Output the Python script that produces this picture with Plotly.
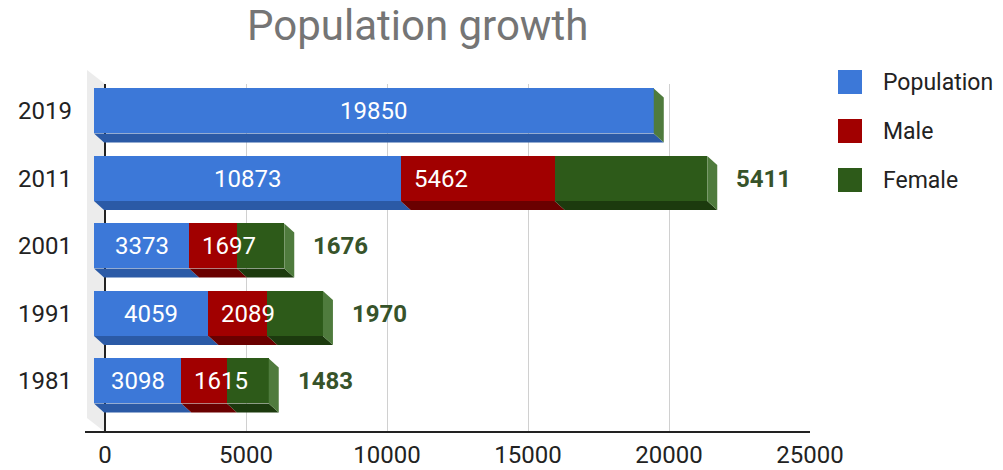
import plotly.graph_objects as go

# ---- data -------------------------------------------------------------
years = ["1981", "1991", "2001", "2011", "2019"]
population = [3098, 4059, 3373, 10873, 19850]
male = [1615, 2089, 1697, 5462, 0]
female = [1483, 1970, 1676, 5411, 0]
series_names = ["Population", "Male", "Female"]
x_ticks = [0, 5000, 10000, 15000, 20000, 25000]

# ---- style ------------------------------------------------------------
W, H = 1003, 470
front_colors = ["#3c78d8", "#a10000", "#2d5a19"]
bottom_colors = ["#2b5aa6", "#6a0000", "#1c3a0e"]
side_color = "#4f7b3d"
female_label_color = "#37532a"
FONT = "Roboto"
BAR_W = 0.667
DX = 355      # depth of the 3D boxes along x (axis units)
DY = 0.133    # depth of the 3D boxes along y (axis units)


def px_x(p):
    return p / W


def px_y(p):
    return 1 - p / H


series = [population, male, female]
rows = list(range(len(years)))

fig = go.Figure()

# back plane (gridlines and value axis) lives on x / y so it is drawn first
fig.add_trace(go.Scatter(
    x=[0], y=[0], xaxis="x", yaxis="y", mode="markers",
    marker=dict(opacity=0), showlegend=False, hoverinfo="skip",
))

# front faces of the stacked bars on x2 / y2
for name, vals, col in zip(series_names, series, front_colors):
    fig.add_trace(go.Bar(
        name=name, y=rows, x=vals, orientation="h", width=BAR_W,
        marker=dict(color=col, line=dict(width=0)),
        xaxis="x2", yaxis="y2", showlegend=False, hoverinfo="x+name",
    ))

shapes = []
annotations = []

# light side wall of the 3D plot box
shapes.append(dict(
    type="path", xref="paper", yref="paper", layer="below",
    path=(f"M {px_x(87)},{px_y(70)} L {px_x(105)},{px_y(84)} "
          f"L {px_x(105)},{px_y(432)} L {px_x(87)},{px_y(418)} Z"),
    fillcolor="#ececec", line=dict(width=0),
))

# bottom and right faces of the boxes
for i in rows:
    y_top = i + BAR_W / 2
    y_bot = i - BAR_W / 2
    start = 0
    for vals, col in zip(series, bottom_colors):
        v = vals[i]
        if v > 0:
            end = start + v
            shapes.append(dict(
                type="path", xref="x2", yref="y2", layer="above",
                path=(f"M {start},{y_bot} L {end},{y_bot} "
                      f"L {end + DX},{y_bot - DY} L {start + DX},{y_bot - DY} Z"),
                fillcolor=col, line=dict(width=0),
            ))
            start = end
    total = start
    shapes.append(dict(
        type="path", xref="x2", yref="y2", layer="above",
        path=(f"M {total},{y_top} L {total + DX},{y_top - DY} "
              f"L {total + DX},{y_bot - DY} L {total},{y_bot} Z"),
        fillcolor=side_color, line=dict(width=0),
    ))

    # value labels
    annotations.append(dict(
        x=population[i] / 2, y=i, xref="x2", yref="y2", text=str(population[i]),
        showarrow=False, xanchor="center", yanchor="middle",
        font=dict(family=FONT, size=24, color="white"),
    ))
    if male[i] > 0:
        annotations.append(dict(
            x=population[i], y=i, xref="x2", yref="y2", text=str(male[i]),
            showarrow=False, xanchor="left", yanchor="middle", xshift=11,
            font=dict(family=FONT, size=24, color="white"),
        ))
    if female[i] > 0:
        annotations.append(dict(
            x=total, y=i, xref="x2", yref="y2", text=f"<b>{female[i]}</b>",
            showarrow=False, xanchor="left", yanchor="middle", xshift=27,
            font=dict(family=FONT, size=24, color=female_label_color),
        ))

# base line of the plot
shapes.append(dict(
    type="line", xref="paper", yref="paper",
    x0=px_x(85), x1=px_x(810), y0=px_y(432), y1=px_y(432),
    line=dict(color="#222222", width=2),
))

# legend
legend_rows = [82, 131, 180]
for name, col, yc in zip(series_names, front_colors, legend_rows):
    shapes.append(dict(
        type="rect", xref="paper", yref="paper",
        x0=px_x(838), x1=px_x(862), y0=px_y(yc - 12), y1=px_y(yc + 12),
        fillcolor=col, line=dict(width=0),
    ))
    annotations.append(dict(
        x=px_x(881), y=px_y(yc), xref="paper", yref="paper", text=name,
        showarrow=False, xanchor="left", yanchor="middle",
        font=dict(family=FONT, size=23, color="#222222"),
    ))

# title
annotations.append(dict(
    x=px_x(417), y=px_y(25), xref="paper", yref="paper",
    text="Population growth", showarrow=False,
    xanchor="center", yanchor="middle",
    font=dict(family=FONT, size=42, color="#757575"),
))

fig.update_layout(
    width=W, height=H, autosize=False,
    margin=dict(l=0, r=0, t=0, b=0, pad=0, autoexpand=False),
    paper_bgcolor="white", plot_bgcolor="rgba(0,0,0,0)",
    barmode="stack", bargap=0,
    showlegend=False,
    shapes=shapes, annotations=annotations,
    # back plane: gridlines and value axis
    xaxis=dict(
        domain=[px_x(105), px_x(810)], range=[0, 25000],
        tickvals=x_ticks, ticktext=[str(t) for t in x_ticks],
        showgrid=True, gridcolor="#d0d0d0", gridwidth=1,
        zeroline=True, zerolinecolor="#222222", zerolinewidth=1.5,
        showline=False, ticks="", ticklabelstandoff=6, automargin=False,
        tickfont=dict(family=FONT, size=24, color="#222222"),
        anchor="y",
    ),
    yaxis=dict(
        domain=[px_y(432), px_y(84)], range=[0, 1],
        visible=False, anchor="x", automargin=False,
    ),
    # front plane: bars and category labels
    xaxis2=dict(
        domain=[px_x(94), px_x(799)], range=[0, 25000],
        showgrid=False, zeroline=False, showticklabels=False,
        anchor="y2", automargin=False,
    ),
    yaxis2=dict(
        domain=[px_y(414.75), px_y(77.25)], range=[-0.5, 4.5],
        tickvals=rows, ticktext=years, showgrid=False, zeroline=False,
        ticks="", ticklabelstandoff=21, anchor="x2", automargin=False,
        tickfont=dict(family=FONT, size=24, color="#222222"),
    ),
)

fig.write_html("out.html")
